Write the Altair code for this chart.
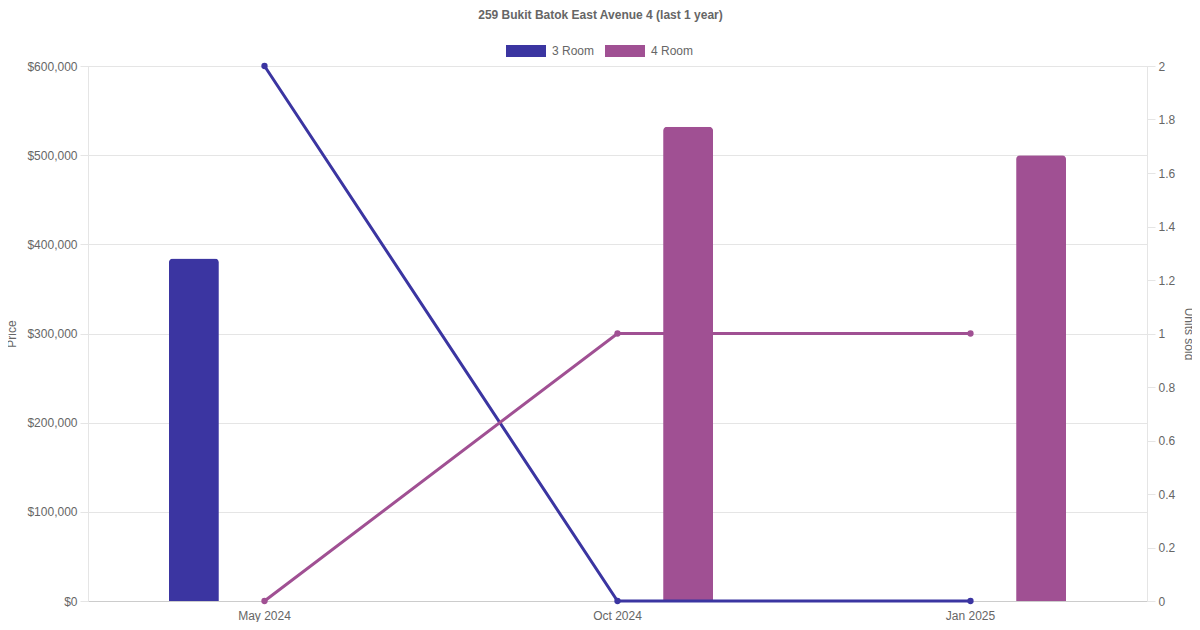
import altair as alt
import pandas as pd

months = ["May 2024", "Oct 2024", "Jan 2025"]
series = ["3 Room", "4 Room"]
colors = ["#3b35a1", "#a05093"]
price_3room = [384000, None, None]
price_4room = [None, 532000, 500000]
units_3room = [2, 0, 0]
units_4room = [0, 1, 1]

rows = []
for i, m in enumerate(months):
    rows.append({"month": m, "series": "3 Room", "price": price_3room[i], "units": units_3room[i]})
    rows.append({"month": m, "series": "4 Room", "price": price_4room[i], "units": units_4room[i]})
df = pd.DataFrame(rows)
bars_df = df.dropna(subset=["price"])

FONT = "Liberation Sans"
GRID = "#e5e5e5"
TXT = "#666666"

xscale = alt.Scale(domain=months, paddingInner=0, paddingOuter=0)
color = alt.Color(
    "series:N",
    scale=alt.Scale(domain=series, range=colors),
    legend=alt.Legend(
        orient="none", legendX=418, legendY=-35, direction="horizontal", title=None,
        symbolType="M-1,-0.3H1V0.3H-1Z", symbolSize=1600, symbolStrokeWidth=0,
        symbolOpacity=1, labelFontSize=12, labelColor=TXT, labelFont=FONT,
        columnPadding=10, labelOffset=6, padding=0,
    ),
)

bars = alt.Chart(bars_df).mark_bar(
    size=50, cornerRadiusTopLeft=4, cornerRadiusTopRight=4
).encode(
    x=alt.X("month:N", sort=months, scale=xscale, title=None,
            axis=alt.Axis(labelAngle=0, ticks=False, labelPadding=9, domainColor="#cccccc",
                          grid=False, labelFontSize=12, labelColor=TXT, labelFont=FONT)),
    xOffset=alt.XOffset("series:N", scale=alt.Scale(domain=series, paddingOuter=0.25, paddingInner=0)),
    y=alt.Y("price:Q", scale=alt.Scale(domain=[0, 600000], nice=False),
            axis=alt.Axis(title="Price", format="$,.0f", values=[0, 100000, 200000, 300000, 400000, 500000, 600000],
                          grid=True, gridColor=GRID, tickColor=GRID, tickSize=8, domainColor=GRID,
                          labelPadding=3, labelFontSize=12, labelColor=TXT, labelFont=FONT,
                          titleFontSize=12, titleFontWeight="normal", titleColor=TXT, titleFont=FONT,
                          titleX=-77, titleY=267.5, titleBaseline="middle", titleAlign="center",
                          titleAngle=270)),
    color=color,
)

units_axis = alt.Axis(
    orient="right", title="Units sold", values=[0, 0.2, 0.4, 0.6, 0.8, 1, 1.2, 1.4, 1.6, 1.8, 2],
    format="~g", grid=False, tickColor=GRID, tickSize=8, domainColor=GRID, labelPadding=3,
    labelFontSize=12, labelColor=TXT, labelFont=FONT, titleFontSize=12, titleFontWeight="normal",
    titleColor=TXT, titleFont=FONT, titleX=41, titleY=267.5, titleBaseline="middle",
    titleAlign="center", titleAngle=90,
)

line_base = alt.Chart(df).encode(
    x=alt.X("month:N", sort=months, scale=xscale, title=None),
    y=alt.Y("units:Q", scale=alt.Scale(domain=[0, 2], nice=False), axis=units_axis),
    color=alt.Color("series:N", scale=alt.Scale(domain=series, range=colors), legend=None),
)
lines = line_base.mark_line(strokeWidth=3)
points = line_base.mark_point(filled=True, size=40, opacity=1)

chart = alt.layer(bars, lines + points).resolve_scale(y="independent").properties(
    width=1059, height=535,
    autosize=alt.AutoSizeParams(type="none"),
    padding={"left": 80, "top": 58, "right": 45, "bottom": 21},
    title=alt.Title("259 Bukit Batok East Avenue 4 (last 1 year)", fontSize=12, fontWeight="bold",
                    color=TXT, font=FONT, anchor="middle", dx=-17, offset=9),
).configure_view(stroke=None).configure(font=FONT)

chart.save("out.html", embed_options={"renderer": "svg", "actions": False})
